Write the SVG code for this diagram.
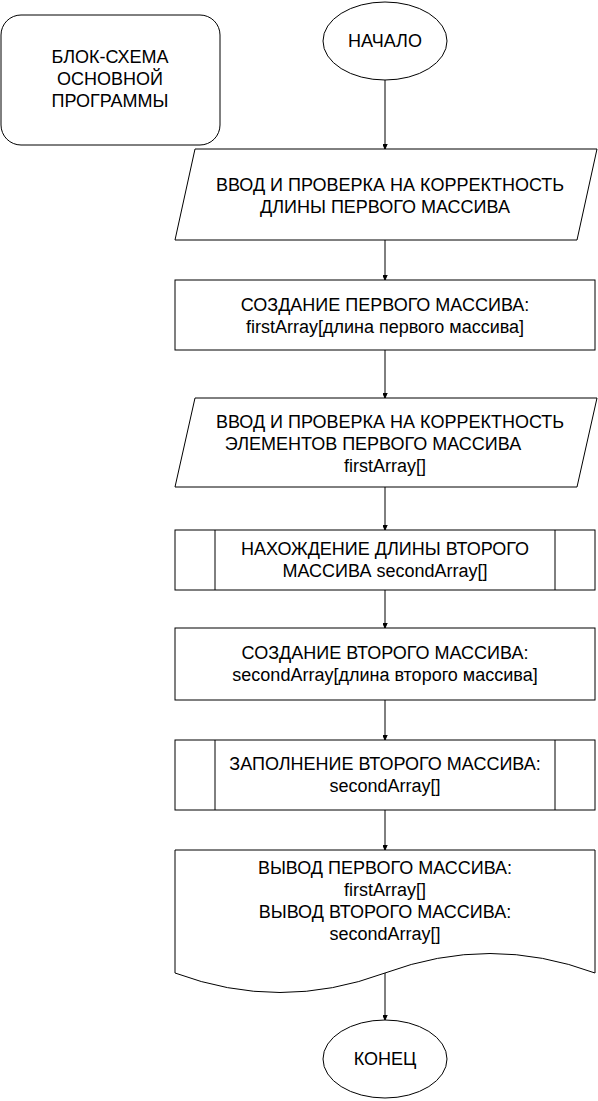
<svg xmlns="http://www.w3.org/2000/svg" width="598" height="1101" viewBox="0 0 598 1101">
<style>
.s{fill:#fff;stroke:#000;stroke-width:1}
.t{font-family:"Liberation Sans",Arial,sans-serif;font-size:18px;fill:#000;text-anchor:middle}
.c{fill:none;stroke:#000;stroke-width:1}
</style>
<defs>
<marker id="ah" markerUnits="userSpaceOnUse" markerWidth="10" markerHeight="12" viewBox="-5 -10 10 12" refX="0" refY="0" orient="auto-start-reverse">
<path d="M-4,-9 L0,0 L4,-9 L0,-7 Z" fill="#000" stroke="#000" stroke-width="1" transform="rotate(-90)"/>
</marker>
</defs>
<rect width="598" height="1101" fill="#fff"/>
<g id="connectors">
<line class="c" x1="385" y1="80" x2="385" y2="149" marker-end="url(#ah)"/>
<line class="c" x1="385" y1="240" x2="385" y2="280" marker-end="url(#ah)"/>
<line class="c" x1="385" y1="350" x2="385" y2="398" marker-end="url(#ah)"/>
<line class="c" x1="385" y1="487" x2="385" y2="530" marker-end="url(#ah)"/>
<line class="c" x1="385" y1="590" x2="385" y2="628" marker-end="url(#ah)"/>
<line class="c" x1="385" y1="700" x2="385" y2="740" marker-end="url(#ah)"/>
<line class="c" x1="385" y1="810" x2="385" y2="850" marker-end="url(#ah)"/>
<line class="c" x1="385" y1="973" x2="385" y2="1020" marker-end="url(#ah)"/>
</g>
<g id="title">
<rect class="s" x="1" y="15" width="219" height="130" rx="20" ry="20"/>
<text class="t" x="110" y="63">БЛОК-СХЕМА</text>
<text class="t" x="110" y="85">ОСНОВНОЙ</text>
<text class="t" x="110" y="107">ПРОГРАММЫ</text>
</g>
<g id="start">
<ellipse class="s" cx="385" cy="41" rx="62" ry="39"/>
<text class="t" x="385" y="47">НАЧАЛО</text>
</g>
<g id="input1">
<path class="s" d="M195,149 L597,149 L577,240 L175,240 Z"/>
<text class="t" x="390" y="191">ВВОД И ПРОВЕРКА НА КОРРЕКТНОСТЬ</text>
<text class="t" x="385" y="213">ДЛИНЫ ПЕРВОГО МАССИВА</text>
</g>
<g id="create1">
<rect class="s" x="175" y="280" width="420" height="70"/>
<text class="t" x="385" y="311">СОЗДАНИЕ ПЕРВОГО МАССИВА:</text>
<text class="t" x="385" y="333">firstArray[длина первого массива]</text>
</g>
<g id="input2">
<path class="s" d="M195,398 L597,398 L577,487 L175,487 Z"/>
<text class="t" x="390" y="428">ВВОД И ПРОВЕРКА НА КОРРЕКТНОСТЬ</text>
<text class="t" x="373" y="450">ЭЛЕМЕНТОВ ПЕРВОГО МАССИВА</text>
<text class="t" x="385" y="472">firstArray[]</text>
</g>
<g id="findlen">
<rect class="s" x="175" y="530" width="420" height="60"/>
<line class="c" x1="215" y1="530" x2="215" y2="590"/>
<line class="c" x1="555" y1="530" x2="555" y2="590"/>
<text class="t" x="385" y="555">НАХОЖДЕНИЕ ДЛИНЫ ВТОРОГО</text>
<text class="t" x="385" y="577">МАССИВА secondArray[]</text>
</g>
<g id="create2">
<rect class="s" x="175" y="628" width="420" height="72"/>
<text class="t" x="385" y="659">СОЗДАНИЕ ВТОРОГО МАССИВА:</text>
<text class="t" x="385" y="681">secondArray[длина второго массива]</text>
</g>
<g id="fill2">
<rect class="s" x="175" y="740" width="420" height="70"/>
<line class="c" x1="215" y1="740" x2="215" y2="810"/>
<line class="c" x1="555" y1="740" x2="555" y2="810"/>
<text class="t" x="385" y="770">ЗАПОЛНЕНИЕ ВТОРОГО МАССИВА:</text>
<text class="t" x="385" y="792">secondArray[]</text>
</g>
<g id="output">
<path class="s" d="M175,850 L595,850 L595,973 Q490,934 385,973 Q280,1012 175,973 Z"/>
<text class="t" x="385" y="874">ВЫВОД ПЕРВОГО МАССИВА:</text>
<text class="t" x="385" y="896">firstArray[]</text>
<text class="t" x="385" y="918">ВЫВОД ВТОРОГО МАССИВА:</text>
<text class="t" x="385" y="940">secondArray[]</text>
</g>
<g id="end">
<ellipse class="s" cx="385" cy="1059" rx="62" ry="39"/>
<text class="t" x="385" y="1065">КОНЕЦ</text>
</g>
</svg>
